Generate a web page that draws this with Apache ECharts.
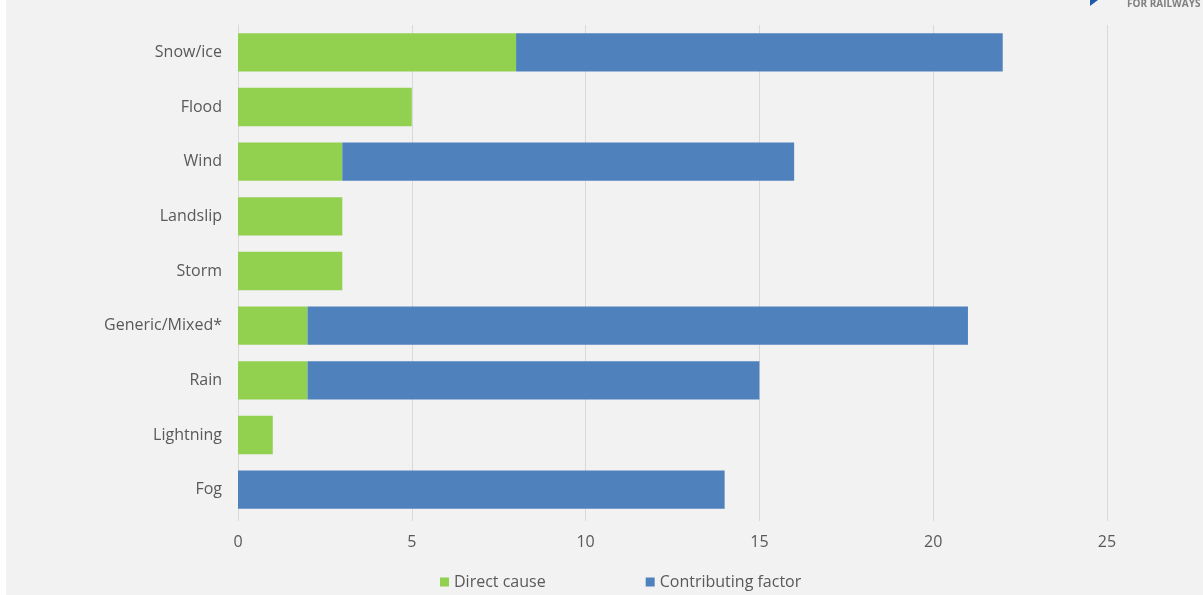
<!DOCTYPE html>
<html><head><meta charset="utf-8">
<script src="https://cdn.jsdelivr.net/npm/echarts@6/dist/echarts.min.js"></script>
<style>
html,body{margin:0;padding:0;background:#fff;}
#c{position:absolute;left:6px;top:0;width:1197px;height:595px;}
</style></head><body>
<div id="c"></div>
<script>
const categories = ['Snow/ice','Flood','Wind','Landslip','Storm','Generic/Mixed*','Rain','Lightning','Fog'];
const directCause = [8,5,3,3,3,2,2,1,0];
const contributingFactor = [14,0,13,0,0,19,13,0,14];
const seriesNames = ['Direct cause','Contributing factor'];

const chart = echarts.init(document.getElementById('c'));
const font = 'Open Sans';
chart.setOption({
  backgroundColor:'#f2f2f2',
  animation:false,
  textStyle:{fontFamily:font},
  grid:{left:232,right:96,top:25,bottom:78,containLabel:false},
  legend:{
    left:429, top:569, itemWidth:9, itemHeight:9, itemGap:100, icon:'rect',
    textStyle:{fontFamily:font,fontSize:16,color:'#595959'},
    data:seriesNames
  },
  xAxis:{
    type:'value', min:0, max:25, interval:5,
    axisLine:{show:false},
    axisTick:{show:true,length:4,lineStyle:{color:'#d9d9d9'}},
    splitLine:{lineStyle:{color:'#d9d9d9',width:1}},
    axisLabel:{fontFamily:font,fontSize:16,color:'#595959',margin:17}
  },
  yAxis:{
    type:'category', data:categories, inverse:true,
    axisLine:{show:true,lineStyle:{color:'#d9d9d9'}},
    axisTick:{show:false},
    axisLabel:{fontFamily:font,fontSize:16,color:'#595959',margin:16}
  },
  graphic:[
    {type:'polygon',shape:{points:[[1084,0],[1092,0],[1084,6]]},style:{fill:'#1f5aa8'}},
    {type:'text',left:1121,top:-1,style:{text:'FOR RAILWAYS',fill:'#7f7f7f',font:'bold 10px "Open Sans"'}}
  ],
  series:[
    {name:seriesNames[0],type:'bar',stack:'a',data:directCause,barCategoryGap:'30%',itemStyle:{color:'#92d050'}},
    {name:seriesNames[1],type:'bar',stack:'a',data:contributingFactor,barCategoryGap:'30%',itemStyle:{color:'#4f81bd'}}
  ]
});
</script>
</body></html>
